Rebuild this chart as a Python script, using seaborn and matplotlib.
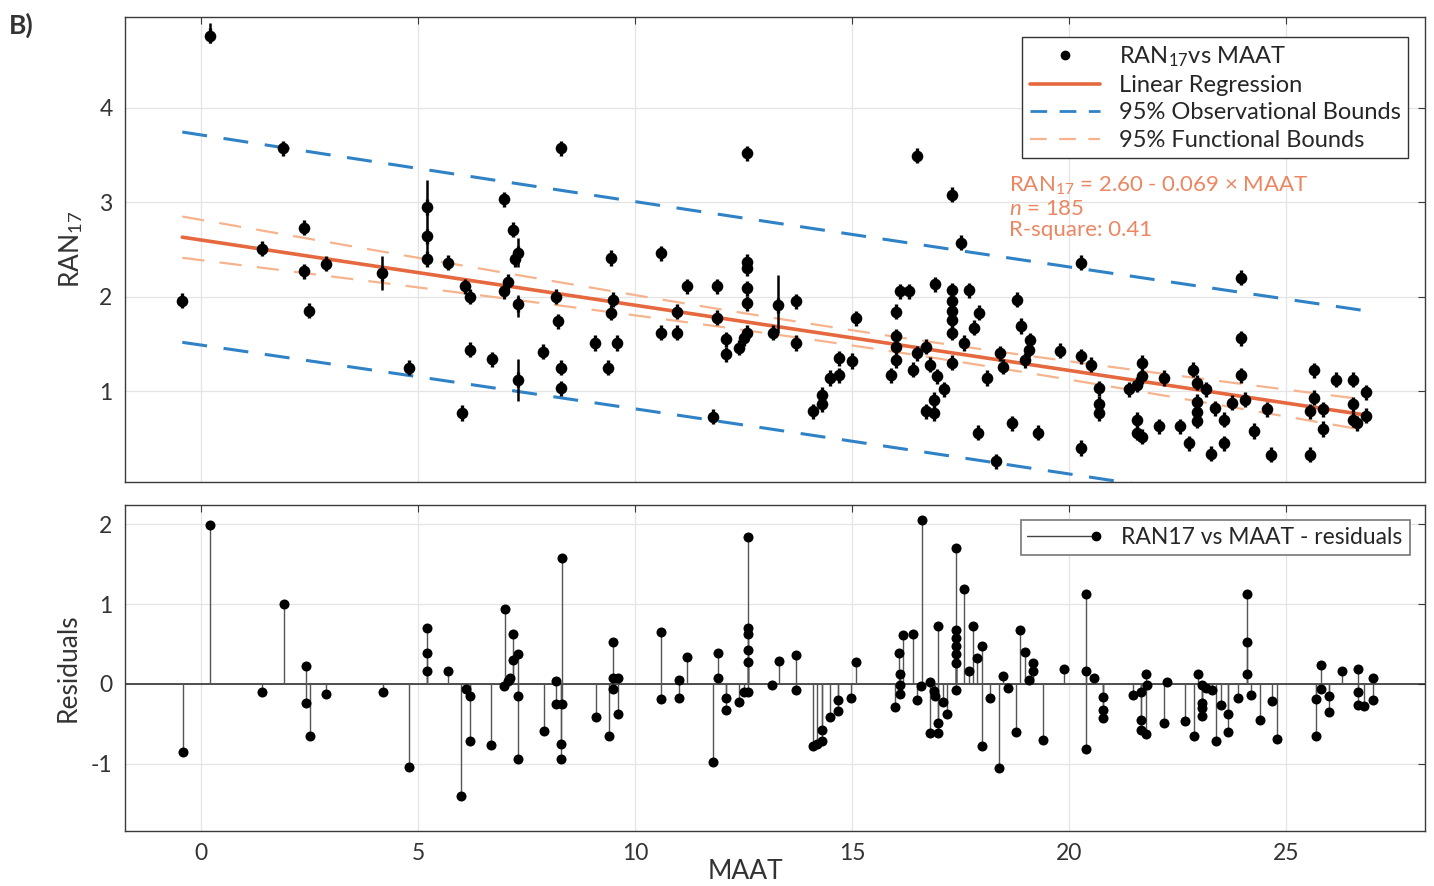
import numpy as np
import pandas as pd
import seaborn as sns
import matplotlib
matplotlib.use('Agg')
import matplotlib.pyplot as plt
from matplotlib.lines import Line2D
from matplotlib.legend_handler import HandlerBase

# ---- top panel: RAN17 vs MAAT ----
maat = [-0.44, 0.20, 1.39, 1.88, 2.37, 2.37, 2.48, 2.88, 4.17,
        4.79, 5.19, 5.19, 5.19, 5.69, 6.00, 6.07, 6.19, 6.19, 6.69,
        6.97, 6.97, 7.07, 7.17, 7.23, 7.29, 7.29, 7.29, 7.88, 8.16,
        8.22, 8.28, 8.28, 8.28, 9.07, 9.36, 9.45, 9.49, 9.45, 9.57,
        10.58, 10.58, 10.97, 10.97, 11.18, 11.78, 11.88, 11.88, 12.08, 12.08,
        12.39, 12.50, 12.58, 12.58, 12.58, 12.58, 12.58, 12.58, 13.18, 13.29,
        13.70, 13.70, 14.09, 14.29, 14.29, 14.48, 14.69, 14.69, 15.00, 15.08,
        15.90, 16.00, 16.00, 16.00, 16.00, 16.11, 16.31, 16.40, 16.50, 16.50,
        16.69, 16.69, 16.80, 16.88, 16.88, 16.90, 16.96, 17.11,
        17.30, 17.30, 17.30, 17.30, 17.30, 17.30, 17.30,
        17.50, 17.57, 17.69, 17.80, 17.92, 17.90, 18.10, 18.30, 18.40, 18.48,
        18.69, 18.79, 18.88, 18.99, 19.07, 19.09, 19.28, 19.79, 20.28, 20.28,
        20.28, 20.49, 20.68, 20.68, 20.68, 21.37, 21.57, 21.57, 21.57, 21.67,
        21.67, 21.67,
        22.07, 22.18, 22.56, 22.76, 22.86, 22.95, 22.95, 22.95, 22.95,
        23.14, 23.26, 23.36, 23.56, 23.56, 23.75, 23.95, 23.95, 23.95, 24.06,
        24.25, 24.55, 24.64, 25.54, 25.54, 25.64, 25.64, 25.85, 25.85, 26.14,
        26.54, 26.54, 26.54, 26.64, 26.83, 26.83]
ran17 = [1.96, 4.76, 2.51, 3.57, 2.73, 2.27, 1.85, 2.35, 2.25,
         1.25, 2.95, 2.64, 2.40, 2.36, 0.77, 2.11, 2.00, 1.44, 1.34,
         3.03, 2.06, 2.16, 2.71, 2.40, 2.46, 1.92, 1.12, 1.42, 2.00,
         1.74, 3.57, 1.25, 1.03, 1.51, 1.25, 2.41, 1.97, 1.83, 1.51,
         2.46, 1.62, 1.84, 1.62, 2.11, 0.73, 2.11, 1.78, 1.55, 1.39,
         1.46, 1.56, 3.52, 2.37, 2.30, 2.09, 1.93, 1.62, 1.62, 1.91,
         1.95, 1.51, 0.79, 0.86, 0.96, 1.14, 1.17, 1.35, 1.32, 1.77,
         1.17, 1.84, 1.58, 1.47, 1.33, 2.06, 2.06, 1.23, 3.49, 1.40,
         1.47, 0.79, 1.28, 0.91, 0.77, 2.13, 1.16, 1.02,
         3.08, 2.07, 1.95, 1.85, 1.75, 1.62, 1.30,
         2.57, 1.51, 2.07, 1.67, 1.83, 0.56, 1.14, 0.26, 1.40, 1.26,
         0.66, 1.97, 1.69, 1.33, 1.44, 1.54, 0.56, 1.43, 2.36, 1.37,
         0.40, 1.28, 1.03, 0.87, 0.77, 1.02, 1.07, 0.70, 0.56, 1.30,
         1.16, 0.52,
         0.63, 1.14, 0.63, 0.45, 1.23, 1.09, 0.89, 0.78, 0.69,
         1.02, 0.34, 0.82, 0.70, 0.45, 0.88, 2.20, 1.56, 1.17, 0.91,
         0.58, 0.81, 0.33, 0.79, 0.33, 1.22, 0.93, 0.81, 0.60, 1.12,
         1.12, 0.86, 0.70, 0.66, 0.99, 0.74]

# the few points with visibly long error bars
long_err_maat = [0.20, 4.17, 5.19, 5.19, 7.29, 7.29, 7.29, 13.29]
long_err_lo = [4.68, 2.07, 2.66, 2.40, 2.32, 1.79, 0.90, 1.62]
long_err_hi = [4.90, 2.43, 3.24, 2.66, 2.62, 2.02, 1.34, 2.23]

# ---- bottom panel: residuals ----
res_maat = [-0.42, 0.19, 1.39, 1.90, 2.40, 2.40, 2.50, 2.88, 4.18, 4.79,
            5.19, 5.19, 5.19, 5.69, 5.99, 6.09, 6.20, 6.20, 6.68, 6.99,
            6.97, 7.07, 7.12, 7.19, 7.19, 7.29, 7.29, 7.29, 7.89, 8.18,
            8.18, 8.30, 8.30, 8.28, 8.28, 9.09, 9.39, 9.49, 9.49, 9.49,
            9.59, 9.59, 10.60, 10.60, 11.00, 11.00, 11.20, 11.80, 11.90, 11.90,
            12.10, 12.10, 12.40, 12.50, 12.60, 12.60, 12.60, 12.60, 12.60, 12.60,
            13.15, 13.30, 13.70, 13.70, 14.09, 14.19, 14.29, 14.29, 14.49, 14.68,
            14.68, 14.98, 15.08, 15.99, 16.07, 16.09, 16.09, 16.09, 16.17, 16.39,
            16.49, 16.60, 16.58, 16.78, 16.78, 16.88, 16.91, 16.98, 16.98, 16.98,
            17.08, 17.19, 17.39, 17.39, 17.39, 17.39, 17.39, 17.39, 17.39, 17.58,
            17.68, 17.78, 17.88, 17.98, 17.98, 18.18, 18.38, 18.48, 18.58, 18.78,
            18.87, 18.97, 19.07, 19.17, 19.17, 19.39, 19.88, 20.38, 20.38, 20.38,
            20.57, 20.77, 20.77, 20.77, 21.47, 21.66, 21.76, 21.66, 21.66, 21.76,
            21.78, 22.18, 22.26, 22.67, 22.87, 22.97, 23.05, 23.05, 23.05, 23.05,
            23.15, 23.30, 23.37, 23.50, 23.66, 23.66, 23.89, 24.09, 24.09, 24.09,
            24.19, 24.39, 24.68, 24.78, 25.69, 25.69, 25.79, 25.79, 25.99, 25.99,
            26.29, 26.66, 26.66, 26.66, 26.79, 26.99, 26.99]
residuals = [-0.85, 1.99, -0.10, 1.00, 0.22, -0.24, -0.65, -0.12, -0.10, -1.04,
             0.70, 0.39, 0.16, 0.16, -1.40, -0.06, -0.15, -0.72, -0.77, 0.94,
             -0.03, 0.04, 0.07, 0.63, 0.30, 0.38, -0.15, -0.94, -0.59, 0.04,
             -0.25, -0.25, 1.58, -0.75, -0.94, -0.41, -0.65, 0.52, 0.07, -0.06,
             0.07, -0.37, 0.65, -0.19, 0.05, -0.17, 0.34, -0.98, 0.39, 0.07,
             -0.17, -0.33, -0.22, -0.10, 1.84, 0.70, 0.63, 0.43, 0.27, -0.10,
             -0.01, 0.29, 0.36, -0.07, -0.78, -0.75, -0.72, -0.58, -0.41, -0.34,
             -0.20, -0.18, 0.28, -0.29, 0.39, 0.12, -0.01, -0.13, 0.61, 0.63,
             -0.20, 2.05, -0.03, 0.03, -0.61, -0.09, -0.15, 0.72, -0.49, -0.61,
             -0.22, -0.38, 1.70, 0.68, 0.58, 0.47, 0.37, 0.26, -0.07, 1.19,
             0.16, 0.72, 0.32, 0.48, -0.78, -0.18, -1.05, 0.10, -0.05, -0.60,
             0.68, 0.40, 0.05, 0.26, 0.16, -0.70, 0.19, 1.13, 0.16, -0.81,
             0.07, -0.16, -0.32, -0.43, -0.14, -0.10, 0.12, -0.45, -0.58, -0.63,
             -0.01, -0.49, 0.02, -0.46, -0.65, 0.13, -0.01, -0.24, -0.30, -0.40,
             -0.05, -0.07, -0.71, -0.26, -0.37, -0.60, -0.18, 1.13, 0.52, 0.12,
             -0.14, -0.45, -0.21, -0.69, -0.65, -0.19, 0.24, -0.06, -0.15, -0.35,
             0.16, 0.19, -0.10, -0.26, -0.27, 0.07, -0.20]

# fit reported on the figure
intercept = 2.60
slope = -0.069
n_samples = 185
r_square = 0.41
t_crit = 1.973
resid_std = 0.553

C_REG = '#E5683F'
C_OBS = '#2F82C6'
C_FUN = '#F6B48E'
C_TXT = '#EC8660'
C_AX = '#3a3a3a'


class StemHandler(HandlerBase):
    # line with the dot at its right end, like a MATLAB stem legend
    def create_artists(self, legend, orig_handle, xdescent, ydescent,
                       width, height, fontsize, trans):
        y = height / 2 - ydescent
        line = Line2D([-xdescent, width - xdescent], [y, y], color='#444444', lw=1)
        dot = Line2D([width - xdescent], [y], marker='o', color='black',
                     markersize=6, linestyle='none')
        line.set_transform(trans)
        dot.set_transform(trans)
        return [line, dot]


def style_axes(ax):
    ax.grid(True, color='#e4e4e4', lw=0.9)
    ax.set_axisbelow(True)
    for sp in ax.spines.values():
        sp.set_color(C_AX)
        sp.set_linewidth(1.0)
        sp.set_visible(True)
    ax.tick_params(direction='in', length=5, width=0.8, colors=C_AX,
                   labelcolor='#333333', labelsize=16.5, top=True, right=True, pad=9)


if __name__ == "__main__":
    sns.set_style("whitegrid")
    plt.rcParams['font.family'] = ['Lato', 'DejaVu Sans']
    plt.rcParams['mathtext.fontset'] = 'custom'
    plt.rcParams['mathtext.rm'] = 'Lato'
    plt.rcParams['mathtext.it'] = 'Lato:italic'
    plt.rcParams['lines.scale_dashes'] = False
    plt.rcParams['axes.unicode_minus'] = False

    df = pd.DataFrame({'MAAT': maat, 'RAN17': ran17})
    res_df = pd.DataFrame({'MAAT': res_maat, 'Residual': residuals})

    # regression line and prediction bounds
    x = np.asarray(maat)
    xbar = x.mean()
    sxx = ((x - xbar) ** 2).sum()
    xs = np.linspace(x.min(), x.max(), 100)
    fit = intercept + slope * xs
    hw_fun = t_crit * resid_std * np.sqrt(1 / n_samples + (xs - xbar) ** 2 / sxx)
    hw_obs = t_crit * resid_std * np.sqrt(1 + 1 / n_samples + (xs - xbar) ** 2 / sxx)

    fig = plt.figure(figsize=(14.34, 8.86), dpi=100)
    ax = fig.add_axes([0.0872, 0.456, 0.9066, 0.5248])
    ax2 = fig.add_axes([0.0872, 0.0621, 0.9066, 0.368])

    # ---- top panel ----
    for yy in (fit + hw_obs, fit - hw_obs):
        sns.lineplot(x=xs, y=yy, ax=ax, color=C_OBS, lw=2.2, errorbar=None)
        ax.lines[-1].set_dashes((18, 12))
    for yy in (fit + hw_fun, fit - hw_fun):
        sns.lineplot(x=xs, y=yy, ax=ax, color=C_FUN, lw=1.6, errorbar=None)
        ax.lines[-1].set_dashes((16, 11))
    sns.lineplot(x=xs, y=fit, ax=ax, color=C_REG, lw=2.6, errorbar=None)

    ax.errorbar(df['MAAT'], df['RAN17'], yerr=0.08, fmt='none', ecolor='black',
                elinewidth=2.4, capsize=0, zorder=4)
    ax.vlines(long_err_maat, long_err_lo, long_err_hi, color='black', lw=1.8, zorder=4)
    sns.scatterplot(data=df, x='MAAT', y='RAN17', ax=ax, color='black', s=70,
                    linewidth=0, zorder=5)

    ax.set_xlim(-1.76, 28.2)
    ax.set_ylim(0.04, 4.96)
    ax.set_xticks([0, 5, 10, 15, 20, 25])
    ax.set_yticks([1, 2, 3, 4])
    ax.set_xticklabels([])
    ax.set_xlabel('')
    ax.set_ylabel('RAN$_{17}$', fontsize=19, color='#333333')
    ax.yaxis.set_label_coords(-0.031, 0.5)
    style_axes(ax)

    handles = [Line2D([], [], marker='o', color='black', linestyle='none', markersize=6),
               Line2D([], [], color=C_REG, lw=2.6),
               Line2D([], [], color=C_OBS, lw=2.0, dashes=(12, 9)),
               Line2D([], [], color=C_FUN, lw=1.6, dashes=(12, 9))]
    labels = ['RAN$_{17}$vs MAAT', 'Linear Regression',
              '95% Observational Bounds', '95% Functional Bounds']
    leg = ax.legend(handles, labels, loc='upper right', bbox_to_anchor=(0.987, 0.957),
                    borderaxespad=0, fontsize=17, frameon=True, fancybox=False,
                    edgecolor='#333333', framealpha=1, handlelength=3.0,
                    labelspacing=0.27, borderpad=0.3, handletextpad=0.8)
    leg.get_frame().set_linewidth(1.0)

    ax.text(18.62, 3.17, 'RAN$_{17}$ = %.2f - %.3f \u00d7 MAAT' % (intercept, -slope),
            color=C_TXT, fontsize=16, va='center')
    ax.text(18.62, 2.93, '$n$ = %d' % n_samples, color=C_TXT, fontsize=16, va='center')
    ax.text(18.62, 2.71, 'R-square: %.2f' % r_square, color=C_TXT, fontsize=16, va='center')

    # ---- bottom panel ----
    ax2.axhline(0, color='#222222', lw=1.1, zorder=2)
    ax2.vlines(res_df['MAAT'], 0, res_df['Residual'], color='#555555', lw=1.0, zorder=3)
    sns.scatterplot(data=res_df, x='MAAT', y='Residual', ax=ax2, color='black', s=52,
                    linewidth=0, zorder=4)
    ax2.set_xlim(-1.76, 28.2)
    ax2.set_ylim(-1.84, 2.24)
    ax2.set_xticks([0, 5, 10, 15, 20, 25])
    ax2.set_yticks([-1, 0, 1, 2])
    ax2.set_xlabel('MAAT', fontsize=19, color='#333333')
    ax2.xaxis.set_label_coords(0.477, -0.085)
    ax2.set_ylabel('Residuals', fontsize=19, color='#333333')
    ax2.yaxis.set_label_coords(-0.034, 0.5)
    style_axes(ax2)

    leg2 = ax2.legend([Line2D([], [])], ['RAN17 vs MAAT - residuals'], loc='upper right',
                      bbox_to_anchor=(0.988, 0.954), borderaxespad=0, fontsize=16.5,
                      frameon=True, fancybox=False, edgecolor='#777777', framealpha=1,
                      handlelength=3.0, handletextpad=1.1, borderpad=0.3,
                      handler_map={Line2D: StemHandler()})
    leg2.get_frame().set_linewidth(1.2)

    fig.text(0.006, 0.962, 'B)', fontsize=19, fontweight='bold', color='#333333')

    fig.savefig('out.png', dpi=100)
